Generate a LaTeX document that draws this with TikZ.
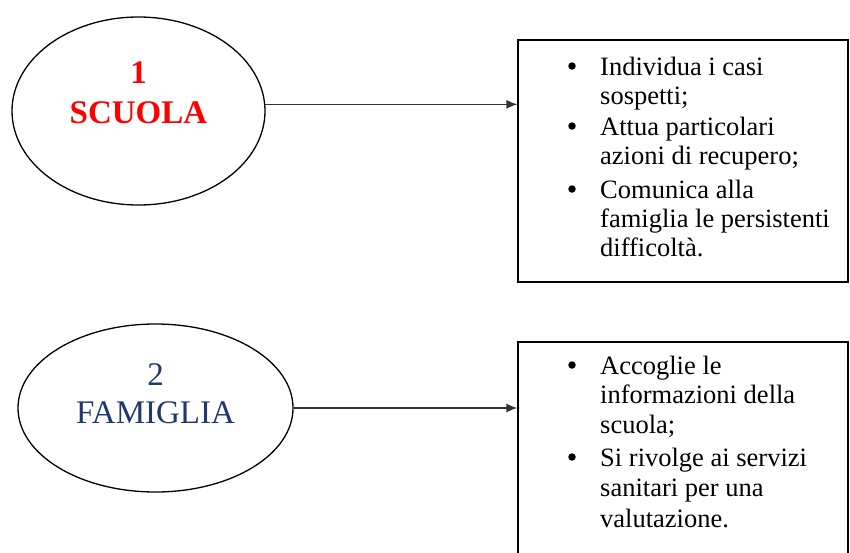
\documentclass[tikz,border=0pt]{standalone}
\usepackage{fontspec}
\setmainfont{Liberation Serif}
\usetikzlibrary{arrows.meta,shapes.geometric}

\definecolor{rosso}{RGB}{255,0,0}
\definecolor{blu}{RGB}{31,56,110}

\tikzset{
  ovale/.style={draw, ellipse, line width=1.3pt, inner sep=0pt},
  riquadro/.style={draw, rectangle, line width=1.3pt, inner sep=0pt},
  freccia/.style={-{Latex[length=11pt,width=9pt]}, line width=1.3pt, color=black!80},
  riga/.style={anchor=base west, inner sep=0pt, font=\fontsize{26.5}{30}\selectfont},
  punto/.style={circle, fill=black, inner sep=0pt, minimum size=7.5pt},
  titolo/.style={anchor=base, inner sep=0pt, font=\fontsize{33}{40}\selectfont}
}

\begin{document}
\begin{tikzpicture}[x=1pt,y=-1pt]
\useasboundingbox (0,0) rectangle (850,552);

% ellissi a sinistra
\node[ovale, minimum width=253pt, minimum height=188pt] (scuola) at (138.5,111) {};
\node[titolo, text=rosso, font=\fontsize{33}{40}\selectfont\bfseries] (scuolanum) at (138.5,83) {1};
\node[titolo, text=rosso, font=\fontsize{33}{40}\selectfont\bfseries] (scuolanome) at (138.5,123) {SCUOLA};

\node[ovale, minimum width=275pt, minimum height=168pt] (famiglia) at (155.5,408) {};
\node[titolo, text=blu] (famiglianum) at (155.5,385) {2};
\node[titolo, text=blu] (famiglianome) at (155.5,423) {FAMIGLIA};

% riquadri a destra
\node[riquadro, minimum width=330pt, minimum height=242pt] (azioni) at (683,161) {};
\node[riquadro, minimum width=330pt, minimum height=240pt] (compiti) at (683,462) {};

\foreach \y [count=\i] in {74,134,197}
\node[punto] (azionipunto\i) at (572,\y-8) {};
\foreach \y/\t [count=\i] in {75/Individua i casi,104/sospetti;,135/Attua particolari,
  164/azioni di recupero;,198/Comunica alla,227/famiglia le persistenti,256/difficoltà.}
\node[riga] (azioniriga\i) at (600,\y) {\t};

\foreach \y [count=\i] in {373,465}
\node[punto] (compitipunto\i) at (572,\y-8) {};
\foreach \y/\t [count=\i] in {374/Accoglie le,403/informazioni della,433/scuola;,
  466/Si rivolge ai servizi,496/sanitari per una,527/valutazione.}
\node[riga] (compitiriga\i) at (600,\y) {\t};

% frecce
\draw[freccia] (scuola.3) -- (scuola.3 -| azioni.west);
\draw[freccia] (famiglia.east) -- (famiglia.east -| compiti.west);
\end{tikzpicture}
\end{document}
